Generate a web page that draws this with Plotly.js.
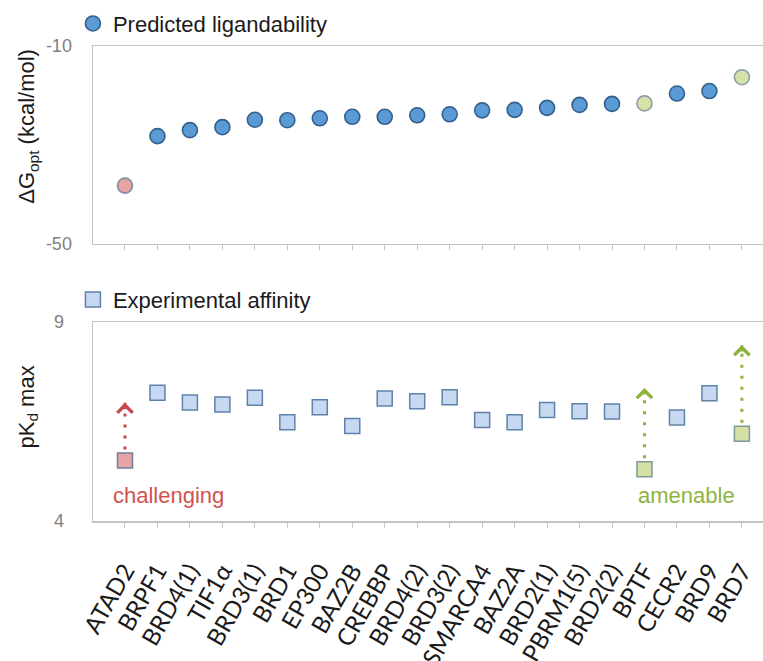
<!DOCTYPE html>
<html>
<head>
<meta charset="utf-8">
<script src="https://cdn.plot.ly/plotly-3.0.1.min.js"></script>
<style>html,body{margin:0;padding:0;background:#fff;}#chart{width:763px;height:661px;}</style>
</head>
<body>
<div id="chart"></div>
<script>
// ---- data ----
const categories = ['ATAD2','BRPF1','BRD4(1)','TIF1\u03b1','BRD3(1)','BRD1','EP300','BAZ2B','CREBBP','BRD4(2)','BRD3(2)','SMARCA4','BAZ2A','BRD2(1)','PBRM1(5)','BRD2(2)','BPTF','CECR2','BRD9','BRD7'];
const deltaG = [-38.2,-28.2,-27.0,-26.4,-24.9,-25.0,-24.6,-24.3,-24.3,-24.0,-23.8,-23.0,-22.9,-22.5,-21.9,-21.7,-21.6,-19.6,-19.1,-16.3];
const pKdMax = [5.52,7.22,6.98,6.93,7.10,6.48,6.86,6.39,7.08,7.01,7.11,6.54,6.48,6.79,6.76,6.75,5.30,6.60,7.21,6.19];
const status = ['challenging','normal','normal','normal','normal','normal','normal','normal','normal','normal','normal','normal','normal','normal','normal','normal','amenable','normal','normal','amenable'];
const arrowCats = ['ATAD2','BPTF','BRD7'];
const arrowTops = [6.97,7.34,8.42];
const deltaGTicks = [-50,-10];
const deltaGTickText = ['-50','-10'];
const pKdTicks = [4,9];
const pKdTickText = ['4','9'];

// ---- styles ----
const FONT = 'Liberation Sans, Arial, sans-serif';
const RED = '#c9474b', GREEN = '#8db33c';
const circleStyle = {
  normal: {color:'#5b9bd5', line:{color:'#335f8c', width:1.6}},
  challenging: {color:'#e8a3a0', line:{color:'#7d8ea6', width:1.6}},
  amenable: {color:'#d5e2a8', line:{color:'#8a9ea6', width:1.6}}
};
const squareStyle = {
  normal: {color:'#c6d9f0', line:{color:'#5f82ab', width:1.5}},
  challenging: {color:'#e8a5a5', line:{color:'#6f7f9a', width:1.5}},
  amenable: {color:'#d4e0a5', line:{color:'#7f9a9a', width:1.5}}
};

function subset(vals, st) {
  const xs = [], ys = [];
  categories.forEach((c, i) => { if (status[i] === st) { xs.push(c); ys.push(vals[i]); } });
  return {x: xs, y: ys};
}

const traces = [];
// arrows (dotted stems) in bottom panel
arrowCats.forEach((c, k) => {
  const i = categories.indexOf(c);
  traces.push({
    x: [c, c], y: [pKdMax[i], arrowTops[k]], xaxis:'x2', yaxis:'y2', mode:'lines',
    line:{color: status[i] === 'challenging' ? RED : GREEN, width:3, dash:'3px,8px'},
    showlegend:false, hoverinfo:'skip'
  });
});
['normal','challenging','amenable'].forEach(st => {
  const a = subset(deltaG, st);
  traces.push({
    x: a.x, y: a.y, xaxis:'x', yaxis:'y', mode:'markers', type:'scatter',
    name: 'Predicted ligandability', legend:'legend',
    showlegend: st === 'normal',
    marker: Object.assign({symbol:'circle', size:15}, circleStyle[st])
  });
  const b = subset(pKdMax, st);
  traces.push({
    x: b.x, y: b.y, xaxis:'x2', yaxis:'y2', mode:'markers', type:'scatter',
    name: 'Experimental affinity', legend:'legend2',
    showlegend: st === 'normal',
    marker: Object.assign({symbol:'square', size:15}, squareStyle[st])
  });
});

const annotations = arrowCats.map((c, k) => {
  const i = categories.indexOf(c);
  const col = status[i] === 'challenging' ? RED : GREEN;
  return {x: c, y: arrowTops[k], xref:'x2', yref:'y2', showarrow:true, ax:0, ay:8,
          arrowhead:4, arrowsize:1.35, arrowwidth:2.2, arrowcolor: col, text:''};
});
annotations.push(
  {x:'ATAD2', y:4.65, xref:'x2', yref:'y2', text:'challenging', showarrow:false,
   xanchor:'left', xshift:-14, font:{family:FONT, size:22, color:'#d0524f'}},
  {x:'BPTF', y:4.65, xref:'x2', yref:'y2', text:'amenable', showarrow:false,
   xanchor:'left', xshift:-8, font:{family:FONT, size:22, color:'#8cb43e'}},
  {x:-0.097, y:0.83, xref:'paper', yref:'paper', text:'\u0394G<sub>opt</sub> (kcal/mol)', textangle:-90,
   showarrow:false, xanchor:'center', yanchor:'middle', font:{family:FONT, size:22, color:'#1a1a1a'}},
  {x:-0.097, y:0.239, xref:'paper', yref:'paper', text:'pK<sub>d</sub> max', textangle:-90,
   showarrow:false, xanchor:'center', yanchor:'middle', font:{family:FONT, size:22, color:'#1a1a1a'}}
);

const axisLine = {showline:true, mirror:true, linecolor:'#c3c3c3', linewidth:1.5, showgrid:false, zeroline:false};
const xRange = [-0.985, 19.65];

const layout = {
  width:763, height:661,
  margin:{l:93, r:0, t:46, b:140},
  paper_bgcolor:'#fff', plot_bgcolor:'#fff',
  font:{family:FONT, color:'#1a1a1a'},
  showlegend:true,
  xaxis: Object.assign({}, axisLine, {type:'category', domain:[0,1], anchor:'y', range:xRange,
    categoryorder:'array', categoryarray:categories,
    ticks:'outside', ticklen:5, tickcolor:'#c3c3c3', showticklabels:false}),
  yaxis: Object.assign({}, axisLine, {domain:[0.5832,1], anchor:'x', range:[-50,-10],
    tickvals:deltaGTicks, ticktext:deltaGTickText, ticks:'', ticklabelstandoff:16,
    tickfont:{family:FONT, size:18, color:'#7f7f7f'}}),
  xaxis2: Object.assign({}, axisLine, {type:'category', domain:[0,1], anchor:'y2', range:xRange,
    categoryorder:'array', categoryarray:categories,
    ticks:'outside', ticklen:5, tickcolor:'#c3c3c3', tickangle:-60, ticklabelstandoff:20,
    tickfont:{family:'Lato, Liberation Sans, sans-serif', size:24, color:'#1a1a1a'}}),
  yaxis2: Object.assign({}, axisLine, {domain:[0,0.4189], anchor:'x2', range:[4,9],
    tickvals:pKdTicks, ticktext:pKdTickText, ticks:'', ticklabelstandoff:24,
    tickfont:{family:FONT, size:18, color:'#7f7f7f'}}),
  legend: {x:-0.03, xanchor:'left', y:1.047, yanchor:'middle', bgcolor:'rgba(0,0,0,0)',
    font:{family:FONT, size:22, color:'#1a1a1a'}},
  legend2: {x:-0.03, xanchor:'left', y:0.466, yanchor:'middle', bgcolor:'rgba(0,0,0,0)',
    font:{family:FONT, size:22, color:'#1a1a1a'}},
  annotations: annotations
};

Plotly.newPlot('chart', traces, layout, {staticPlot:true, displayModeBar:false});
</script>
</body>
</html>
